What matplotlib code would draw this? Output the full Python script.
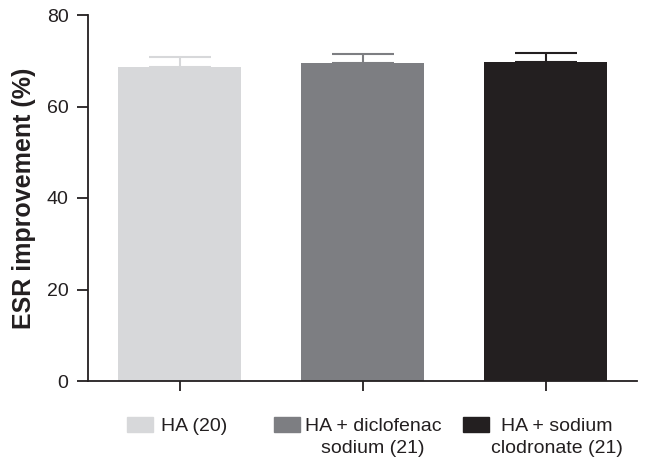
import matplotlib.pyplot as plt
from matplotlib.patches import Rectangle

plt.rcParams['font.family'] = ['Liberation Sans', 'DejaVu Sans']

# 数据
groups = ['HA (20)', 'HA + diclofenac\nsodium (21)', 'HA + sodium\nclodronate (21)']
means = [68.7, 69.5, 69.8]
errors = [2.2, 2.0, 2.0]
colors = ['#d7d8da', '#7d7e82', '#231f20']

fig = plt.figure(figsize=(6.45, 4.66), dpi=100)
ax = fig.add_axes([88 / 645, 1 - 381 / 466, 549 / 645, 366 / 466])

x = list(range(len(means)))
for i in x:
    ax.bar(i, means[i], width=0.675, color=colors[i])
    ax.errorbar(i, means[i], yerr=[[0], [errors[i]]], color=colors[i],
                capsize=22.5, elinewidth=1.5, capthick=1.5, fmt='none')

ax.set_xlim(-0.5, 2.5)
ax.set_ylim(0, 80)
ax.set_yticks([0, 20, 40, 60, 80])
ax.set_xticks(x)
ax.set_xticklabels([])
ax.tick_params(axis='y', length=8, width=1.3, labelsize=14, colors='#231f20', pad=6)
ax.tick_params(axis='x', length=7, width=1.3, colors='#231f20')
ax.spines['top'].set_visible(False)
ax.spines['right'].set_visible(False)
for s in ['left', 'bottom']:
    ax.spines[s].set_linewidth(1.3)
    ax.spines[s].set_color('#231f20')
ax.set_ylabel('ESR improvement (%)', fontsize=18, fontweight='bold', labelpad=8,
              color='#231f20')

# 图例：手动放置，色块与第一行文字对齐
leg_patch_x = [127, 274, 463]
leg_text_x = [194, 373, 557]
for i in x:
    fig.add_artist(Rectangle((leg_patch_x[i] / 645, 1 - 432 / 466), 26 / 645, 15 / 466,
                             transform=fig.transFigure, color=colors[i]))
    fig.text(leg_text_x[i] / 645, 1 - 418 / 466, groups[i], ha='center', va='top',
             multialignment='center', fontsize=14, color='#231f20', linespacing=1.38)

plt.savefig('out.png')
